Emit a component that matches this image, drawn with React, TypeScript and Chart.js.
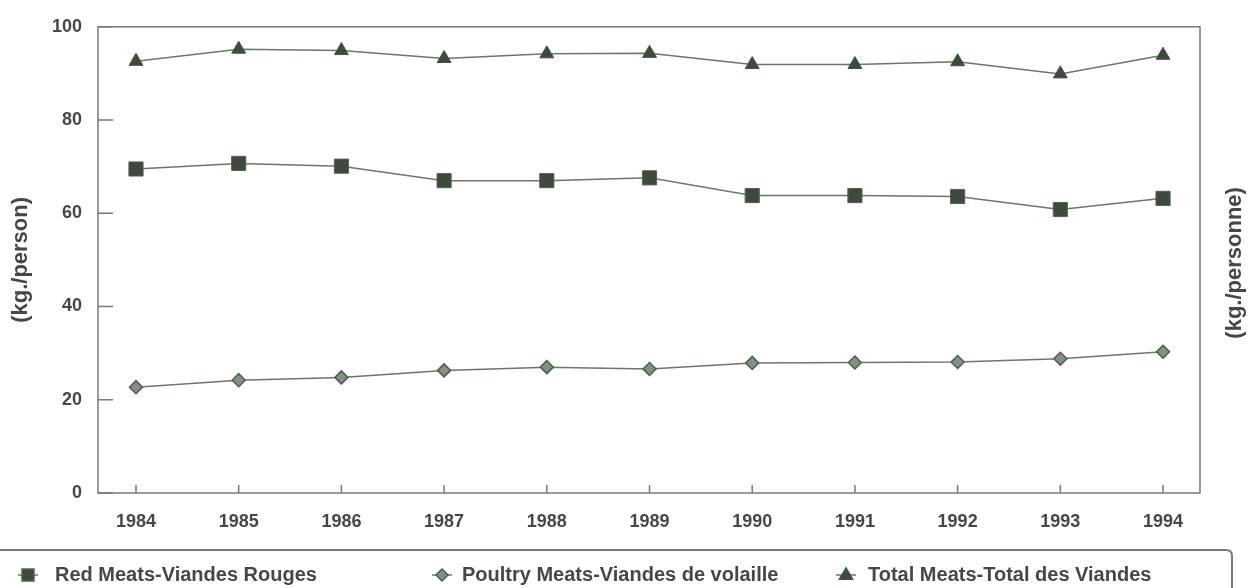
import React, { useEffect, useRef } from "react";
import { Chart, registerables } from "chart.js";

Chart.register(...registerables);

const years = ["1984", "1985", "1986", "1987", "1988", "1989", "1990", "1991", "1992", "1993", "1994"];
const redMeats = [69.5, 70.7, 70.1, 67.0, 67.0, 67.6, 63.8, 63.8, 63.6, 60.8, 63.2];
const poultryMeats = [22.7, 24.2, 24.8, 26.3, 27.0, 26.6, 27.9, 28.0, 28.1, 28.8, 30.3];
const totalMeats = [92.6, 95.2, 94.9, 93.2, 94.2, 94.3, 91.9, 91.9, 92.5, 89.9, 93.9];
const yTicks = [0, 20, 40, 60, 80, 100];
const seriesLabels = [
  "Red Meats-Viandes Rouges",
  "Poultry Meats-Viandes de volaille",
  "Total Meats-Total des Viandes",
];
const leftTitle = "(kg./person)";
const rightTitle = "(kg./personne)";

const FONT = "'Liberation Sans', Arial, sans-serif";
const TEXT = "#474747";
const LINE = "#6a786a";
const MARK = "#3d4a3d";
const FRAME = "#7a7a7a";

function markerPath(ctx: CanvasRenderingContext2D, style: string, x: number, y: number, r: number) {
  ctx.beginPath();
  if (style === "rect") {
    ctx.rect(x - r, y - r, 2 * r, 2 * r);
  } else if (style === "rectRot") {
    ctx.moveTo(x, y - r);
    ctx.lineTo(x + r, y);
    ctx.lineTo(x, y + r);
    ctx.lineTo(x - r, y);
    ctx.closePath();
  } else {
    ctx.moveTo(x, y - r);
    ctx.lineTo(x + r * 0.95, y + r * 0.6);
    ctx.lineTo(x - r * 0.95, y + r * 0.6);
    ctx.closePath();
  }
}

const framePlugin = {
  id: "framePlugin",
  beforeDatasetsDraw(chart: any) {
    const { ctx, chartArea, scales } = chart;
    ctx.save();
    ctx.strokeStyle = FRAME;
    ctx.lineWidth = 1.5;
    ctx.strokeRect(chartArea.left, chartArea.top, chartArea.right - chartArea.left, chartArea.bottom - chartArea.top);
    ctx.beginPath();
    for (const v of yTicks) {
      const y = scales.y.getPixelForValue(v);
      ctx.moveTo(chartArea.left, y);
      ctx.lineTo(chartArea.left + 15, y);
    }
    for (const yr of years) {
      const x = scales.x.getPixelForValue(Number(yr));
      ctx.moveTo(x, chartArea.bottom);
      ctx.lineTo(x, chartArea.bottom - 8);
    }
    ctx.stroke();
    ctx.restore();
  },
  afterDraw(chart: any) {
    const { ctx, chartArea } = chart;
    ctx.save();
    ctx.fillStyle = TEXT;
    ctx.font = `bold 22px ${FONT}`;
    ctx.textAlign = "center";
    ctx.textBaseline = "middle";
    ctx.translate(1235, (chartArea.top + chartArea.bottom) / 2 + 3);
    ctx.rotate(-Math.PI / 2);
    ctx.fillText(rightTitle, 0, 0);
    ctx.restore();

    ctx.save();
    ctx.strokeStyle = FRAME;
    ctx.lineWidth = 2;
    ctx.beginPath();
    ctx.moveTo(0, 550);
    ctx.lineTo(1226, 550);
    ctx.quadraticCurveTo(1232, 550, 1232, 556);
    ctx.lineTo(1232, 592);
    ctx.stroke();

    const ds = chart.data.datasets;
    const items = [
      { mx: 28, tx: 55 },
      { mx: 442, tx: 462 },
      { mx: 846, tx: 868 },
    ];
    items.forEach((it, i) => {
      const d = ds[i];
      const my = 575;
      ctx.strokeStyle = LINE;
      ctx.lineWidth = 1.5;
      ctx.beginPath();
      ctx.moveTo(it.mx - 10, my);
      ctx.lineTo(it.mx + 10, my);
      ctx.stroke();
      const r = d.pointStyle === "rect" ? 6 : d.pointStyle === "rectRot" ? 6 : 7;
      markerPath(ctx, d.pointStyle, it.mx, my, r);
      ctx.fillStyle = d.pointBackgroundColor;
      ctx.fill();
      ctx.strokeStyle = d.pointBorderColor;
      ctx.lineWidth = 1.5;
      ctx.stroke();
      ctx.fillStyle = TEXT;
      ctx.font = `bold 20px ${FONT}`;
      ctx.textAlign = "left";
      ctx.textBaseline = "alphabetic";
      ctx.fillText(d.label, it.tx, 581);
    });
    ctx.restore();
  },
};

export default function App() {
  const ref = useRef<HTMLCanvasElement | null>(null);

  useEffect(() => {
    document.body.style.margin = "0";
    const canvas = ref.current;
    if (!canvas) return;
    const toPts = (arr: number[]) => years.map((y, i) => ({ x: Number(y), y: arr[i] }));
    const chart = new Chart(canvas, {
      type: "line",
      data: {
        datasets: [
          {
            label: seriesLabels[0],
            data: toPts(redMeats),
            borderColor: LINE,
            borderWidth: 1.5,
            pointStyle: "rect",
            pointRadius: 10,
            pointBackgroundColor: MARK,
            pointBorderColor: "#556255",
            pointBorderWidth: 1,
          },
          {
            label: seriesLabels[1],
            data: toPts(poultryMeats),
            borderColor: LINE,
            borderWidth: 1.5,
            pointStyle: "rectRot",
            pointRadius: 6.5,
            pointBackgroundColor: "#849084",
            pointBorderColor: "#4f5c4f",
            pointBorderWidth: 1.5,
          },
          {
            label: seriesLabels[2],
            data: toPts(totalMeats),
            borderColor: LINE,
            borderWidth: 1.5,
            pointStyle: "triangle",
            pointRadius: 8,
            pointBackgroundColor: MARK,
            pointBorderColor: "#455245",
            pointBorderWidth: 1,
          },
        ] as any,
      },
      options: {
        animation: false,
        responsive: false,
        devicePixelRatio: 1,
        layout: { padding: { top: 18, bottom: 38, left: 0, right: 60 } },
        plugins: { legend: { display: false }, tooltip: { enabled: false } },
        scales: {
          x: {
            type: "linear",
            min: 1983.63,
            max: 1994.36,
            grid: { display: false, drawTicks: false },
            border: { display: false },
            afterBuildTicks: (scale: any) => {
              scale.ticks = years.map((y) => ({ value: Number(y) }));
            },
            afterFit: (scale: any) => {
              scale.height = 57;
            },
            ticks: {
              autoSkip: false,
              maxRotation: 0,
              padding: 18,
              color: TEXT,
              font: { family: FONT, size: 18, weight: "bold" },
              callback: (v: any) => String(v),
            },
          },
          y: {
            min: 0,
            max: 100,
            grid: { display: false, drawTicks: false },
            border: { display: false },
            afterBuildTicks: (scale: any) => {
              scale.ticks = yTicks.map((v) => ({ value: v }));
            },
            afterFit: (scale: any) => {
              scale.width = 98;
            },
            ticks: {
              padding: 16,
              color: TEXT,
              font: { family: FONT, size: 18, weight: "bold" },
            },
            title: {
              display: true,
              text: leftTitle,
              color: TEXT,
              padding: { top: 8, bottom: 0 },
              font: { family: FONT, size: 22, weight: "bold" },
            },
          },
        },
      } as any,
      plugins: [framePlugin],
    });
    return () => chart.destroy();
  }, []);

  return (
    <div style={{ width: 1260, height: 588, position: "relative", background: "#fff" }}>
      <canvas ref={ref} width={1260} height={588} />
    </div>
  );
}
